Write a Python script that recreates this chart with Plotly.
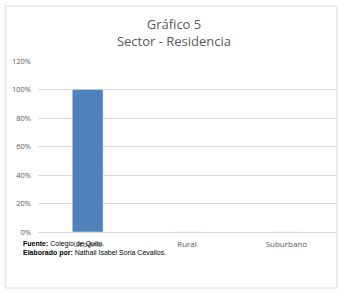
import plotly.graph_objects as go

categories = ["Urbano", "Rural", "Suburbano"]
values = [1.0, 0.0, 0.0]
title_lines = ["Gráfico 5", "Sector - Residencia"]

W, H = 348, 294
L, R, T, B = 36, 12, 61, 62
pw, ph = W - L - R, H - T - B

def px(x):
    return (x - L) / pw

def py(y):
    return (H - B - y) / ph

fig = go.Figure(go.Bar(x=categories, y=values, marker_color="#4F81BD", width=0.31))

fig.update_layout(
    width=W, height=H,
    margin=dict(l=L, r=R, t=T, b=B),
    paper_bgcolor="white", plot_bgcolor="white",
    showlegend=False,
    font=dict(family="Open Sans", color="#595959"),
    title=dict(text="<br>".join(title_lines), x=0.5, xanchor="center", y=1 - 29 / H, yanchor="top",
               font=dict(size=13, color="#595959", family="Open Sans")),
    xaxis=dict(showgrid=False, showline=True, linecolor="#d9d9d9", tickfont=dict(size=8, color="#595959"),
               ticks="", ticklabelstandoff=4),
    yaxis=dict(range=[0, 1.2], dtick=0.2, tickformat=".0%", showgrid=True, gridcolor="#d9d9d9",
               zeroline=False, tickfont=dict(size=7.5, color="#595959"), ticklabelstandoff=6),
    shapes=[dict(type="rect", xref="paper", yref="paper", x0=px(3), x1=px(337), y0=py(288), y1=py(6),
                 line=dict(color="#d9d9d9", width=1))],
    annotations=[
        dict(text="<b>Fuente:</b> Colegio de Quito.", xref="paper", yref="paper", x=px(19), y=py(244),
             xanchor="left", yanchor="middle", showarrow=False, font=dict(family="Arial", size=7, color="black")),
        dict(text="<b>Elaborado por:</b> Nathali Isabel Soria Cevallos.", xref="paper", yref="paper", x=px(19), y=py(253),
             xanchor="left", yanchor="middle", showarrow=False, font=dict(family="Arial", size=7, color="black")),
    ],
)

fig.write_html("out.html")
